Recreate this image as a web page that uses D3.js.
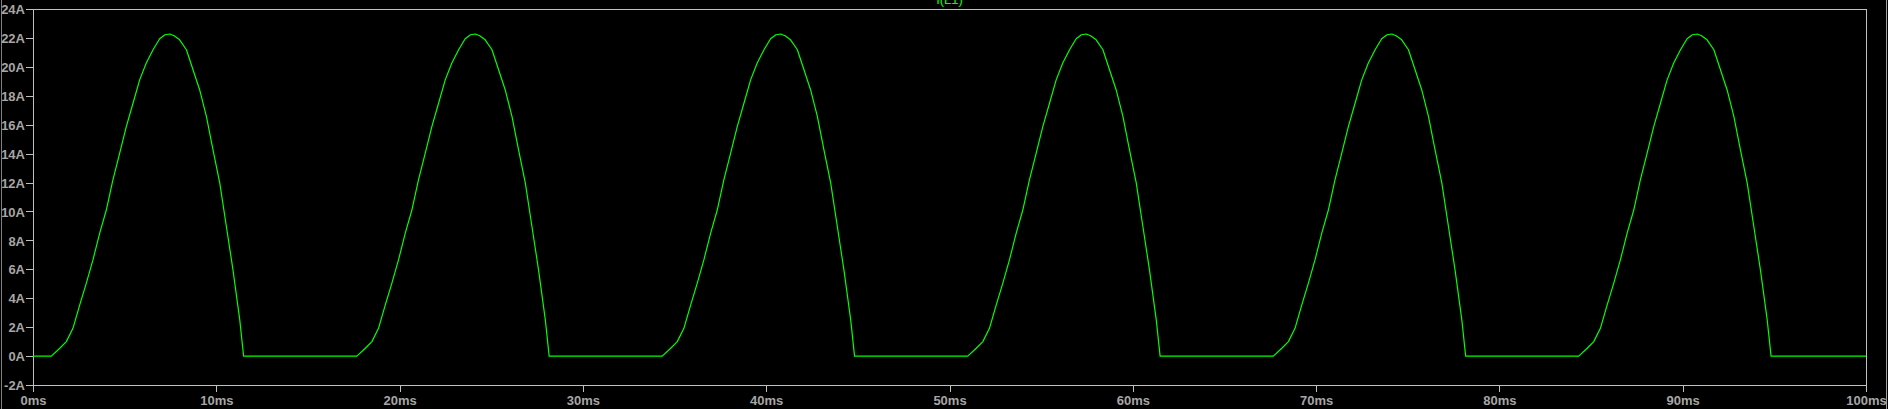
<!DOCTYPE html>
<html>
<head>
<meta charset="utf-8">
<script src="https://cdn.jsdelivr.net/npm/d3@7"></script>
<style>
  html, body { margin: 0; padding: 0; background: #000; overflow: hidden; }
  svg { display: block; }
  text { font-family: "Liberation Sans", Arial, sans-serif; }
</style>
</head>
<body>
<script>
// ---- data ----
const title = "I(L1)";
const xTicks = [0, 10, 20, 30, 40, 50, 60, 70, 80, 90, 100];          // ms
const yTicks = [-2, 0, 2, 4, 6, 8, 10, 12, 14, 16, 18, 20, 22, 24];   // A
// start time (ms) of each conduction pulse
const pulseStarts = [1.0, 17.67, 34.33, 51.0, 67.67, 84.33];
// shape of one pulse: time since pulse start (ms) and current (A)
const pulseT = [0, 0.46, 0.82, 1.18, 1.55, 1.91, 2.27, 2.64, 3.0, 3.36, 3.73, 4.09, 4.46, 4.82, 5.18, 5.55, 5.91, 6.2, 6.46, 6.7, 7.0, 7.37, 7.73, 8.09, 8.46, 8.82, 9.19, 9.55, 9.91, 10.28, 10.49];
const pulseI = [0, 0.54, 1.0, 1.92, 3.54, 5.04, 6.65, 8.5, 10.1, 12.19, 14.03, 15.87, 17.5, 19.1, 20.26, 21.18, 21.94, 22.22, 22.27, 22.15, 21.87, 21.18, 19.8, 18.42, 16.57, 14.26, 11.96, 8.96, 5.96, 2.5, 0];

// ---- build series ----
const series = [{t: 0, i: 0}];
pulseStarts.forEach(s => {
  pulseT.forEach((dt, k) => series.push({t: s + dt, i: pulseI[k]}));
});
series.push({t: 100, i: 0});

// ---- layout ----
const W = 1888, H = 409;
const L = 33, R = 1866, T = 9, B = 385;

const svg = d3.select("body").append("svg")
  .attr("width", W).attr("height", H);

svg.append("rect").attr("width", W).attr("height", H).attr("fill", "#000");

const x = d3.scaleLinear().domain([0, 100]).range([L, R]);
const y = d3.scaleLinear().domain([-2, 24]).range([B, T]);

const axisColor = "#c0c0c0";
const labelColor = "#a6a6a6";

// window border lines
svg.append("line").attr("x1", 1.5).attr("x2", 1.5).attr("y1", 0).attr("y2", H)
  .attr("stroke", "#808080").attr("stroke-width", 1);
svg.append("line").attr("x1", 1886.5).attr("x2", 1886.5).attr("y1", 0).attr("y2", H)
  .attr("stroke", "#a0a0a0").attr("stroke-width", 1);

// y axis
const yAxis = d3.axisLeft(y).tickValues(yTicks).tickSize(7).tickPadding(1)
  .tickFormat(d => d + "A");
const gy = svg.append("g").attr("transform", `translate(${L},0)`).call(yAxis);
gy.select(".domain").remove();
gy.selectAll(".tick line").attr("stroke", axisColor).attr("shape-rendering", "crispEdges");
gy.selectAll(".tick text").attr("fill", labelColor)
  .attr("font-size", 13).attr("font-weight", "bold")
  .attr("font-family", "'Liberation Sans', Arial, sans-serif")
  .attr("dy", "0.36em");

// x axis
const xAxis = d3.axisBottom(x).tickValues(xTicks).tickSize(7).tickPadding(4)
  .tickFormat(d => d + "ms");
const gx = svg.append("g").attr("transform", `translate(0,${B})`).call(xAxis);
gx.select(".domain").remove();
gx.selectAll(".tick line").attr("stroke", axisColor).attr("shape-rendering", "crispEdges");
gx.selectAll(".tick text").attr("fill", labelColor)
  .attr("font-size", 13).attr("font-weight", "bold")
  .attr("font-family", "'Liberation Sans', Arial, sans-serif");

// frame
svg.append("rect")
  .attr("x", L + 0.5).attr("y", T + 0.5)
  .attr("width", R - L).attr("height", B - T)
  .attr("fill", "none").attr("stroke", axisColor).attr("stroke-width", 1)
  .attr("shape-rendering", "crispEdges");

// trace
svg.append("clipPath").attr("id", "plotclip").append("rect")
  .attr("x", L).attr("y", T).attr("width", R - L + 1).attr("height", B - T + 1);

const line = d3.line().x(d => x(d.t)).y(d => y(d.i));
svg.append("path")
  .datum(series)
  .attr("clip-path", "url(#plotclip)")
  .attr("d", line)
  .attr("fill", "none")
  .attr("stroke", "#00ff00")
  .attr("stroke-width", 1.2)
  .attr("stroke-linejoin", "round");

// title
svg.append("text")
  .attr("x", (L + R) / 2).attr("y", 4)
  .attr("text-anchor", "middle")
  .attr("fill", "#00ff00")
  .attr("font-size", 13)
  .text(title);
</script>
</body>
</html>
